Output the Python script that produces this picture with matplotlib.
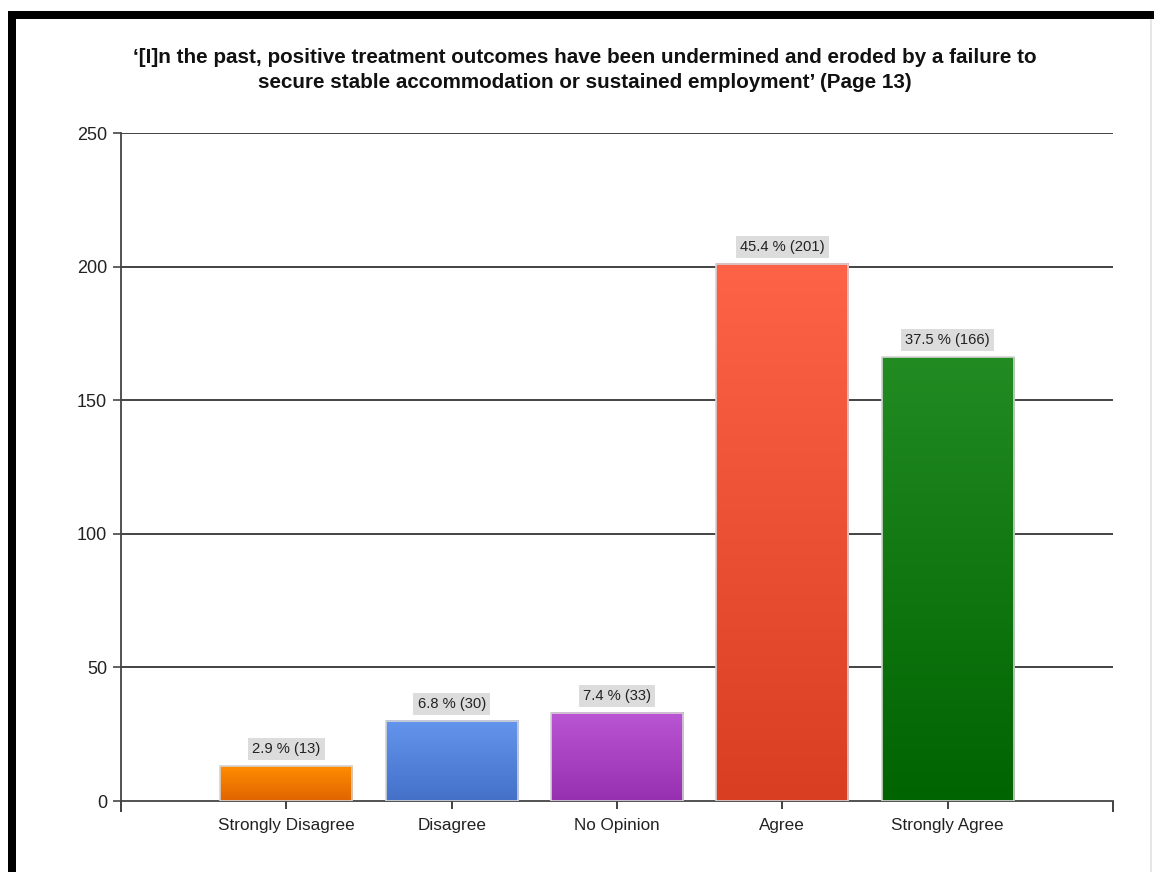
import numpy as np
import matplotlib
matplotlib.use("Agg")
from matplotlib import pyplot as plt
from matplotlib.patches import Rectangle
from matplotlib.colors import LinearSegmentedColormap

# survey responses
categories = ["Strongly Disagree", "Disagree", "No Opinion", "Agree", "Strongly Agree"]
counts = [13, 30, 33, 201, 166]
percents = [2.9, 6.8, 7.4, 45.4, 37.5]
yticks = [0, 50, 100, 150, 200, 250]

# top and bottom colour of each bar gradient
top_cols = ["#FF8C00", "#6495ED", "#BA55D3", "#FF6347", "#228B22"]
bot_cols = ["#E06400", "#4470C8", "#9630B0", "#DA3E22", "#006400"]

title = ("\u2018[I]n the past, positive treatment outcomes have been undermined and eroded by a failure to\n"
         "secure stable accommodation or sustained employment\u2019 (Page 13)")

plt.rcParams['font.family'] = ['Liberation Sans', 'DejaVu Sans']

fig = plt.figure(figsize=(11.54, 8.72), dpi=100)
ax = fig.add_axes([121/1154, 1-801/872, (1113-121)/1154, (801-133)/872])

x = np.arange(1, len(categories)+1)
w = 0.8
grad = np.linspace(0, 1, 256).reshape(-1, 1)
for i in range(len(categories)):
    cm = LinearSegmentedColormap.from_list("g%d" % i, [bot_cols[i], top_cols[i]])
    ax.imshow(grad, cmap=cm, origin="lower", aspect="auto", interpolation="bilinear",
              extent=[x[i]-w/2, x[i]+w/2, 0, counts[i]], zorder=3)
    ax.bar(x[i], counts[i], width=w, facecolor="none", edgecolor="#D4D4D4", linewidth=1.2, zorder=4)
    ax.text(x[i], counts[i] + 6.4, "%.1f %% (%d)" % (percents[i], counts[i]),
            ha="center", va="center", fontsize=10.6, color="#222222", zorder=5,
            bbox=dict(boxstyle="square,pad=0.28", facecolor="#DCDCDC", edgecolor="none"))

ax.set_xlim(0, 6)
ax.set_ylim(0, 250)
ax.set_yticks(yticks)
ax.set_yticklabels([str(v) for v in yticks], fontsize=13, color="#222222")
ax.set_xticks(x)
ax.set_xticklabels(categories, fontsize=12.3, color="#222222")
ax.set_xticks([0, 6], minor=True)
ax.tick_params(axis="x", which="minor", length=8, width=1.3, color="#333333")
ax.tick_params(axis="x", which="major", length=6, width=1.3, color="#333333", pad=6)
ax.tick_params(axis="y", length=6, width=1.3, color="#555555", pad=4)

for v in yticks[1:]:
    ax.axhline(v, color="#111111", linewidth=1.1, zorder=1)

for s in ["top", "right"]:
    ax.spines[s].set_visible(False)
ax.spines["left"].set_color("#444444")
ax.spines["bottom"].set_color("#444444")
ax.spines["left"].set_linewidth(1.3)
ax.spines["bottom"].set_linewidth(1.3)

fig.text(585/1154, 1-70/872, title, ha="center", va="center", fontsize=14.9,
         fontweight="bold", color="#111111", linespacing=1.38)

# black frame along the top and left edge
fig.patches.append(Rectangle((8/1154, 1-19/872), 1-8/1154, 8/872, transform=fig.transFigure,
                             facecolor="black", edgecolor="none", zorder=10))
fig.patches.append(Rectangle((8/1154, 0), 8/1154, 1-11/872, transform=fig.transFigure,
                             facecolor="black", edgecolor="none", zorder=10))
fig.patches.append(Rectangle((1150/1154, 0), 1.5/1154, 1-19/872, transform=fig.transFigure,
                             facecolor="#E6E6E6", edgecolor="none", zorder=10))

fig.savefig("out.png", dpi=100)
